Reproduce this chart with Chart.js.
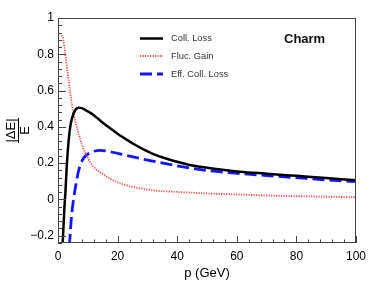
<!DOCTYPE html>
<html>
<head>
<meta charset="utf-8">
<script src="https://cdn.jsdelivr.net/npm/chart.js@4.4.1/dist/chart.umd.min.js"></script>
<style>
html,body{margin:0;padding:0;background:#fff;}
canvas{display:block;}
</style>
</head>
<body>
<canvas id="c" width="374" height="287"></canvas>
<script>
// ---- data ----
const collP    = [1.2, 1.7, 2.1, 2.45, 3.0, 3.55, 4.1, 4.7, 5.8, 6.9, 8, 9.5, 11.9, 14.5, 17.5, 20, 23, 26, 29, 32, 36.5, 44.2, 50, 61, 70, 80, 90, 100];
const collLoss = [-0.35, -0.2, -0.06, 0.03, 0.2, 0.32, 0.40, 0.447, 0.493, 0.506, 0.503, 0.49, 0.466, 0.43, 0.392, 0.362, 0.330, 0.300, 0.273, 0.250, 0.224, 0.19, 0.175, 0.153, 0.142, 0.13, 0.118, 0.106];

const flucP    = [1.2, 1.7, 2.45, 3.0, 3.55, 4.1, 4.7, 5.2, 5.8, 6.6, 7.5, 8.5, 9.7, 10.8, 12.5, 14.1, 16, 19.2, 22, 25.3, 28, 32, 38, 44.2, 50, 61, 70, 80, 90, 100];
const flucGain = [0.905, 0.885, 0.80, 0.73, 0.66, 0.59, 0.52, 0.475, 0.43, 0.38, 0.33, 0.28, 0.24, 0.205, 0.17, 0.15, 0.13, 0.10, 0.083, 0.068, 0.06, 0.05, 0.043, 0.038, 0.033, 0.027, 0.022, 0.018, 0.015, 0.012];

const effP     = [3.6, 3.9, 4.5, 5.2, 6.0, 6.8, 7.5, 8.3, 9.1, 10.5, 11.9, 14.1, 17, 20, 23.1, 27.5, 30.9, 36.5, 44.2, 50, 61, 70, 80, 90, 100];
const effLoss  = [-0.35, -0.24, -0.1, 0.0, 0.08, 0.15, 0.19, 0.22, 0.238, 0.255, 0.265, 0.271, 0.265, 0.254, 0.242, 0.226, 0.214, 0.196, 0.174, 0.16, 0.143, 0.132, 0.12, 0.108, 0.098];

const seriesNames = ['Coll. Loss', 'Fluc. Gain', 'Eff. Coll. Loss'];
const xTickValues = [0, 20, 40, 60, 80, 100];
const xTickLabels = ['0', '20', '40', '60', '80', '100'];
const yTickValues = [-0.2, 0, 0.2, 0.4, 0.6, 0.8, 1];
const yTickLabels = ['\u22120.2', '0', '0.2', '0.4', '0.6', '0.8', '1'];
const xTitle = 'p (GeV)';
const yTitleTop = '|\u0394E|';
const yTitleBottom = 'E';
const labelText = 'Charm';

const FONT = '"Liberation Sans", Arial, Helvetica, sans-serif';
const styles = [
  {color:'#000000', width:2.5, dash:[]},
  {color:'rgba(255,40,40,0.85)', width:1.8, dash:[1.2,1.3]},
  {color:'#1414ff', width:2.8, dash:[12,5]}
];

function pts(xs, ys){ return xs.map((x,i)=>({x:x, y:ys[i]})); }

const framePlugin = {
  id:'frame',
  afterDraw(chart){
    const ctx = chart.ctx, a = chart.chartArea;
    const xs = chart.scales.x, ys = chart.scales.y;
    ctx.save();
    ctx.strokeStyle = '#444';
    ctx.lineWidth = 1;
    ctx.strokeRect(a.left+0.5, a.top+0.5, a.right-a.left-1, a.bottom-a.top-1);
    ctx.beginPath();
    for (let k = 0; k <= 31; k++) {
      const v = -0.24 + k*0.04;
      if (v > 1.0001) break;
      const py = Math.round(ys.getPixelForValue(v)) + 0.5;
      const major = Math.abs((v*5) - Math.round(v*5)) < 1e-6;
      const len = major ? 8 : 4;
      ctx.moveTo(a.left, py); ctx.lineTo(a.left + len, py);
    }
    for (let v = 0; v <= 100; v += 4) {
      const px = Math.round(xs.getPixelForValue(v)) + 0.5;
      const major = v % 20 === 0;
      const len = major ? 7 : 3.5;
      ctx.moveTo(px, a.bottom); ctx.lineTo(px, a.bottom - len);
    }
    ctx.stroke();

    ctx.strokeStyle = '#000';
    ctx.lineWidth = 1;
    ctx.beginPath();
    ctx.moveTo(18.5, 118); ctx.lineTo(18.5, 143);
    ctx.stroke();

    const rows = [38.5, 56, 74];
    ctx.font = '9.3px ' + FONT;
    ctx.textBaseline = 'middle';
    ctx.textAlign = 'left';
    rows.forEach((y, i) => {
      const s = styles[i];
      ctx.strokeStyle = s.color;
      ctx.lineWidth = s.width;
      ctx.setLineDash(s.dash);
      ctx.beginPath();
      ctx.moveTo(140, y); ctx.lineTo(163, y);
      ctx.stroke();
      ctx.setLineDash([]);
      ctx.fillStyle = '#333';
      ctx.fillText(seriesNames[i], 171, y);
    });
    ctx.font = 'bold 13px ' + FONT;
    ctx.fillStyle = '#111';
    ctx.fillText(labelText, 284, 39.5);
    ctx.restore();
  }
};

new Chart(document.getElementById('c'), {
  type:'line',
  data:{
    datasets:[
      {label:seriesNames[0], data:pts(collP, collLoss)},
      {label:seriesNames[1], data:pts(flucP, flucGain)},
      {label:seriesNames[2], data:pts(effP, effLoss)}
    ].map((d,i)=>Object.assign(d, {
      borderColor:styles[i].color,
      borderWidth:styles[i].width,
      borderDash:styles[i].dash,
      pointRadius:0,
      fill:false,
      cubicInterpolationMode:'monotone',
      tension:0.4
    }))
  },
  options:{
    responsive:false,
    animation:false,
    devicePixelRatio:1,
    layout:{padding:{top:18, right:18, left:0, bottom:0}},
    plugins:{legend:{display:false}, tooltip:{enabled:false}},
    scales:{
      x:{
        type:'linear', min:0, max:100,
        grid:{display:false, drawTicks:false},
        border:{display:false},
        afterBuildTicks(s){ s.ticks = xTickValues.map(v=>({value:v})); },
        afterFit(s){ s.height = 44; },
        ticks:{
          maxRotation:0, autoSkip:false, padding:6,
          color:'#000', font:{family:FONT, size:12},
          callback:(v,i)=>xTickLabels[i]
        },
        title:{display:true, text:xTitle, color:'#000',
          font:{family:FONT, size:13}, padding:{top:0, bottom:6}}
      },
      y:{
        type:'linear', min:-0.24, max:1,
        grid:{display:false, drawTicks:false},
        border:{display:false},
        afterBuildTicks(s){ s.ticks = yTickValues.map(v=>({value:v})); },
        afterFit(s){ s.width = 58; },
        ticks:{
          autoSkip:false, padding:4,
          color:'#000', font:{family:FONT, size:12},
          callback:(v,i)=>yTickLabels[i]
        },
        title:{display:true, text:[yTitleTop, yTitleBottom], color:'#000',
          font:{family:FONT, size:13, lineHeight:1.08}, padding:{top:4.3, bottom:0}}
      }
    }
  },
  plugins:[framePlugin]
});
</script>
</body>
</html>
